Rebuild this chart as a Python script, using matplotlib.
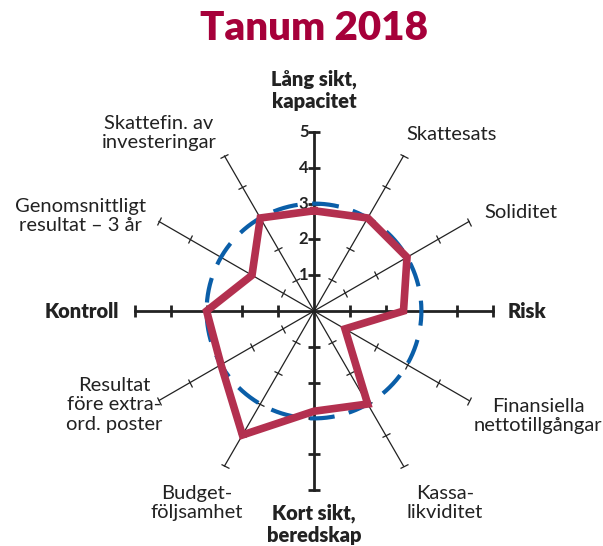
import matplotlib.pyplot as plt
import numpy as np
from matplotlib.markers import MarkerStyle
from matplotlib.transforms import Affine2D

plt.rcParams['font.family'] = ['Lato', 'DejaVu Sans']

# data
labels = ['Lång sikt,\nkapacitet', 'Skattesats', 'Soliditet', 'Risk',
          'Finansiella\nnettotillgångar', 'Kassa-\nlikviditet', 'Kort sikt,\nberedskap',
          'Budget-\nföljsamhet', 'Resultat\nföre extra-\nord. poster', 'Kontroll',
          'Genomsnittligt\nresultat – 3 år', 'Skattefin. av\ninvesteringar']
values = [2.8, 3.0, 3.0, 2.5, 1.0, 3.0, 2.8, 4.0, 3.0, 3.0, 2.0, 3.0]
reference = 3
scale = [1, 2, 3, 4, 5]
main_axes = [0, 3, 6, 9]

# label centres in pixels (layout)
label_pos = [(314, 90), (452, 135), (521, 213), (527, 312),
             (538, 416), (445, 503), (314, 524),
             (197, 503), (114, 405), (82, 312),
             (80, 216), (159, 133)]

W, H = 603, 546
red = '#b3304f'
blue = '#0a5ea8'
dark = '#222222'

fig = plt.figure(figsize=(W / 100, H / 100), dpi=100)
cx, cy, R = 314, 311, 179
ax = fig.add_axes([(cx - R) / W, (H - cy - R) / H, 2 * R / W, 2 * R / H], projection='polar')
ax.set_theta_zero_location('N')
ax.set_theta_direction(-1)
ax.set_ylim(0, 5)
ax.grid(False)
ax.set_xticks([])
ax.set_yticks([])
ax.spines['polar'].set_visible(False)
ax.patch.set_alpha(0)

theta = np.arange(len(values)) * 2 * np.pi / len(values)

for i, t in enumerate(theta):
    main = i in main_axes
    lw = 2.0 if main else 0.9
    ax.plot([t, t], [0, 5], color=dark, lw=lw, zorder=2, clip_on=False)
    rot = -np.degrees(t)
    m = MarkerStyle('_', transform=Affine2D().rotate_deg(rot))
    ax.plot([t] * len(scale), scale, linestyle='none', marker=m,
            ms=9 if main else 7, mew=lw, color=dark, zorder=2, clip_on=False)

for k in scale:
    ax.annotate(str(k), (0, k), xytext=(-4, 0), textcoords='offset points',
                ha='right', va='center', fontsize=12, fontweight='bold', color=dark)

circ = np.linspace(0, 2 * np.pi, 400)
ax.plot(circ, np.full_like(circ, reference), color=blue, lw=3, dashes=(6, 3.5), zorder=3)

ax.plot(np.append(theta, theta[0]), np.append(values, values[0]), color=red, lw=5.5,
        solid_joinstyle='miter', zorder=4)

for i, (lab, (px, py)) in enumerate(zip(labels, label_pos)):
    bold = i in main_axes
    fig.text(px / W, 1 - py / H, lab, ha='center', va='center', fontsize=14.5,
             fontweight='heavy' if bold else 'normal', color=dark, linespacing=1.2)

fig.text(314 / W, 1 - 28 / H, 'Tanum 2018', ha='center', va='center', fontsize=29,
         fontweight='heavy', color='#a6003a')

fig.savefig('out.png', dpi=100)
